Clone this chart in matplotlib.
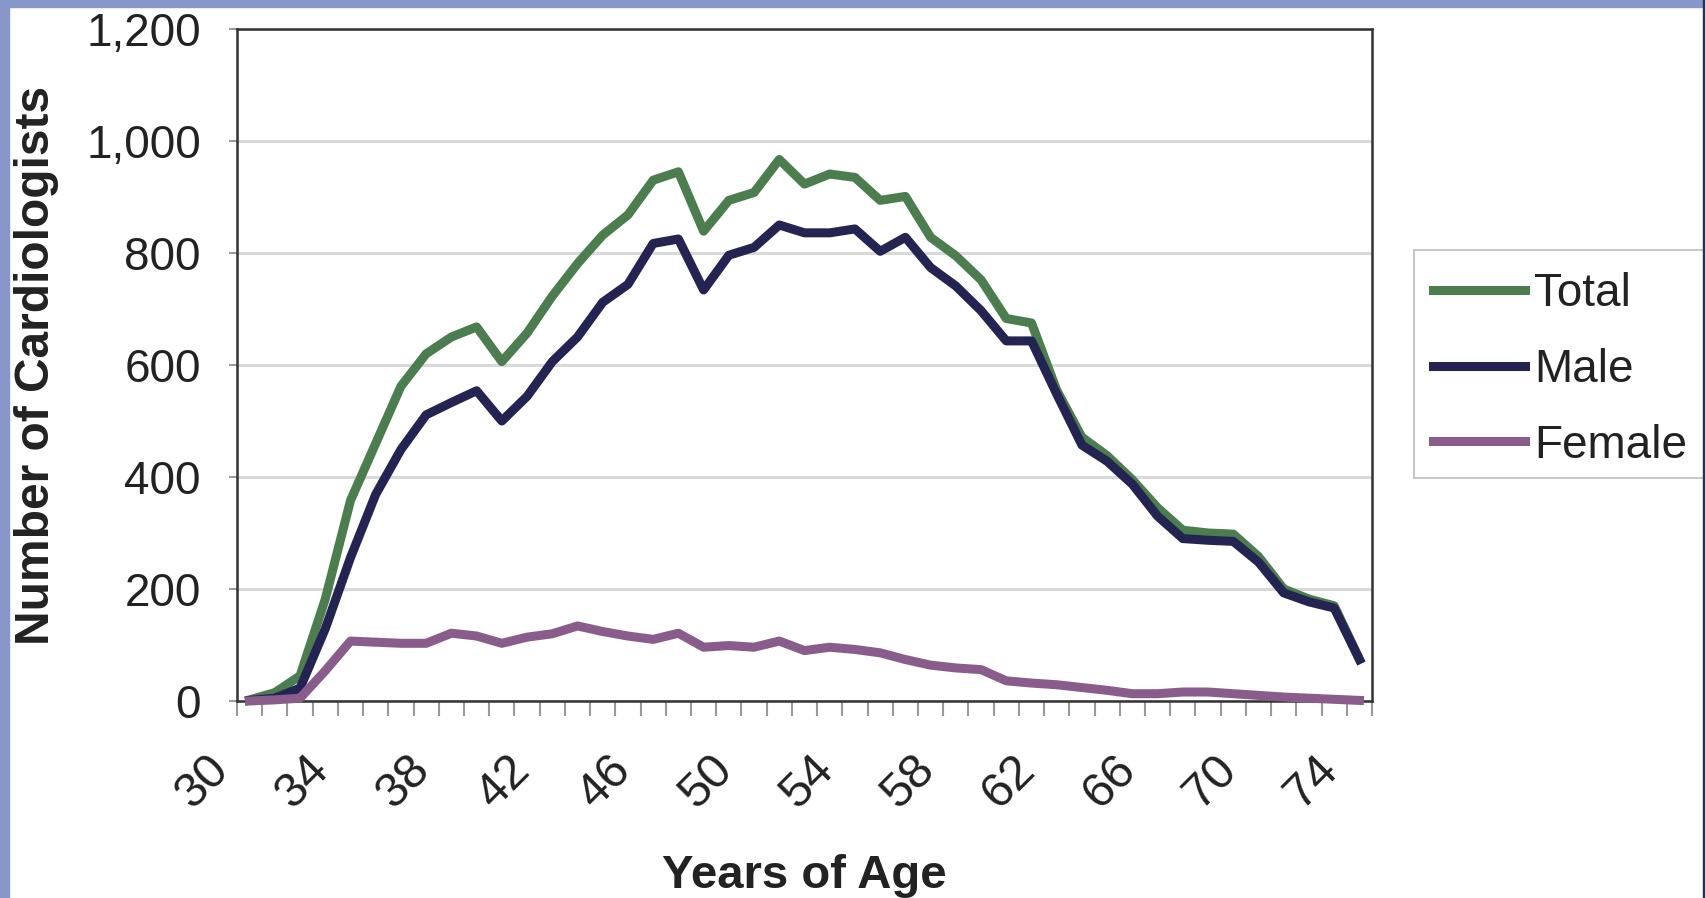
import numpy as np
import matplotlib
matplotlib.use("Agg")
import matplotlib.pyplot as plt
from matplotlib.patches import Rectangle

plt.rcParams['font.family'] = ['Liberation Sans', 'DejaVu Sans']

ages = list(range(30, 75))
total = [2, 15, 45, 182, 358, 460, 562, 620, 650, 668,
         606, 657, 723, 781, 832, 868, 930, 945, 839, 894,
         908, 967, 923, 941, 935, 894, 901, 828, 795, 752,
         683, 675, 555, 471, 438, 395, 345, 305, 300, 298,
         258, 200, 182, 170, 75]
male = [1, 5, 23, 129, 256, 369, 449, 511, 533, 554,
        500, 544, 606, 650, 712, 744, 817, 825, 734, 796,
        810, 850, 836, 836, 843, 803, 828, 774, 741, 697,
        643, 643, 548, 457, 428, 387, 330, 290, 287, 285,
        248, 193, 177, 166, 74]
female = [0, 2, 5, 54, 107, 105, 103, 103, 121, 116,
          103, 114, 120, 134, 124, 116, 110, 121, 96, 99,
          96, 107, 90, 96, 92, 86, 74, 64, 59, 56,
          36, 32, 29, 24, 19, 13, 13, 16, 16, 13,
          10, 7, 5, 3, 1]
label_ages = [30, 34, 38, 42, 46, 50, 54, 58, 62, 66, 70, 74]
y_ticks = [0, 200, 400, 600, 800, 1000, 1200]

fig = plt.figure(figsize=(17.05, 8.98), dpi=100)
ax = fig.add_axes([0.139, 0.2194, 0.6657, 0.7483])

ax.plot(ages, total, color='#4b7d4f', lw=6.5, label='Total', clip_on=False, zorder=3)
ax.plot(ages, male, color='#242452', lw=6.5, label='Male', clip_on=False, zorder=4)
ax.plot(ages, female, color='#8a5c8b', lw=6.5, label='Female', clip_on=False, zorder=5)

ax.set_xlim(29.5, 74.5)
ax.set_ylim(0, 1200)

# category boundaries carry tick marks, only every 4th gets a label
bounds = [a - 0.5 for a in ages] + [ages[-1] + 0.5]
ax.set_xticks(bounds)
ax.set_xticklabels([str(int(b + 0.5)) if int(b + 0.5) in label_ages else '' for b in bounds],
                   rotation=45, ha='right', va='bottom', rotation_mode='anchor',
                   fontsize=35, color='#222222')
ax.tick_params(axis='x', length=11, width=1.5, color='#999999', pad=45)

ax.set_yticks(y_ticks)
ax.set_yticklabels([f'{v:,}' for v in y_ticks], fontsize=33, color='#222222')
ax.tick_params(axis='y', length=6, width=1.5, color='#999999', pad=20)

ax.grid(axis='y', color='#d9d9d9', lw=2.2)
ax.set_axisbelow(True)
for s in ax.spines.values():
    s.set_color('#333333')
    s.set_linewidth(1.8)

ax.set_ylabel('Number of Cardiologists', fontsize=34.5, fontweight='bold', color='#222222')
ax.yaxis.set_label_coords(-0.157, 0.5)
ax.set_xlabel('Years of Age', fontsize=34, fontweight='bold', color='#222222')
ax.xaxis.set_label_coords(0.5, -0.228)

leg = fig.legend(loc='upper left', bbox_to_anchor=(1414 / 1705, 1 - 253 / 898),
                 fontsize=33, frameon=False, handlelength=2.0,
                 handletextpad=0.2, borderpad=0.42, labelspacing=0.69,
                 borderaxespad=0)
for t in leg.get_texts():
    t.set_color('#222222')
# legend box runs past the right edge of the picture
fig.patches.append(Rectangle((1414 / 1705, 1 - 478 / 898), 320 / 1705, 228 / 898,
                             transform=fig.transFigure, facecolor='white',
                             edgecolor='#c8c8c8', lw=1.5, zorder=0))

# blue slide border
fig.patches.append(Rectangle((0, 0), 9 / 1705, 1, transform=fig.transFigure,
                             color='#8797c9', zorder=1))
fig.patches.append(Rectangle((0, 1 - 7 / 898), 1, 7 / 898, transform=fig.transFigure,
                             color='#8797c9', zorder=1))
fig.patches.append(Rectangle((1 - 2 / 1705, 0), 2 / 1705, 1, transform=fig.transFigure,
                             color='#2a3050', zorder=1))

fig.savefig('out.png', dpi=100)
